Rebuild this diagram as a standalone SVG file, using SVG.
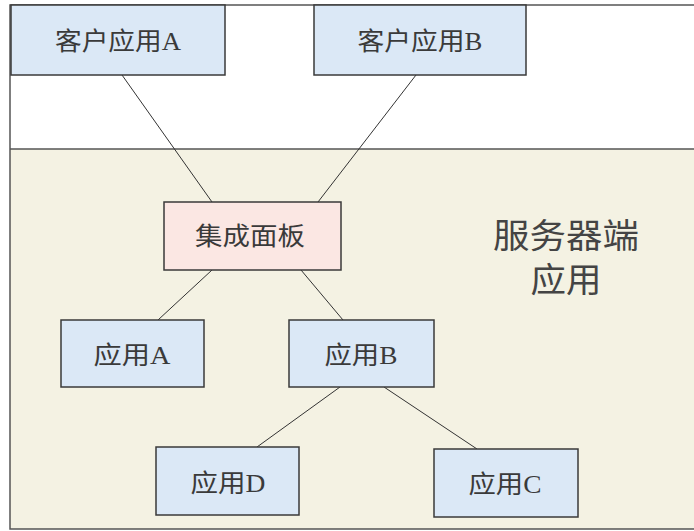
<svg xmlns="http://www.w3.org/2000/svg" width="694" height="531" viewBox="0 0 694 531">
<style>
.frame{fill:none;stroke:#555;stroke-width:1.5}
.box{fill:#dbe8f6;stroke:#3a3a3a;stroke-width:1.5}
.pink{fill:#fbe7e3;stroke:#3a3a3a;stroke-width:1.5}
.lbl{font-family:"Liberation Serif","Noto Sans CJK SC",serif;font-size:25px;fill:#3a3a3a;text-anchor:middle}
.big{font-family:"Liberation Serif","Noto Sans CJK SC",serif;font-size:34px;fill:#444;text-anchor:middle}
.conn line{stroke:#333;stroke-width:1}
</style>
<rect x="0" y="0" width="694" height="531" fill="#ffffff"/>
<rect id="server-area" x="10" y="149" width="700" height="380" fill="#f4f2e3"/>
<rect x="10" y="5" width="700" height="524" class="frame"/>
<line x1="10" y1="149" x2="694" y2="149" stroke="#555" stroke-width="1.5"/>
<text class="big" x="566" y="248" textLength="146" lengthAdjust="spacingAndGlyphs">服务器端</text>
<text class="big" x="566" y="292" textLength="71" lengthAdjust="spacingAndGlyphs">应用</text>
<g class="conn">
<line x1="122" y1="75" x2="212" y2="202"/>
<line x1="416" y1="75" x2="318" y2="202"/>
<line x1="212" y1="270" x2="158" y2="320"/>
<line x1="301" y1="270" x2="343" y2="320"/>
<line x1="340" y1="387" x2="257" y2="447"/>
<line x1="384" y1="387" x2="477" y2="449"/>
</g>
<g id="clientA"><rect class="box" x="11" y="5" width="214" height="70"/><text class="lbl" x="118" y="50" textLength="126" lengthAdjust="spacingAndGlyphs">客户应用A</text></g>
<g id="clientB"><rect class="box" x="314" y="5" width="212" height="70"/><text class="lbl" x="420" y="50" textLength="125" lengthAdjust="spacingAndGlyphs">客户应用B</text></g>
<g id="panel"><rect class="pink" x="164" y="202" width="177" height="68"/><text class="lbl" x="250" y="245" textLength="110" lengthAdjust="spacingAndGlyphs">集成面板</text></g>
<g id="appA"><rect class="box" x="61" y="320" width="143" height="67"/><text class="lbl" x="132" y="364" textLength="77" lengthAdjust="spacingAndGlyphs">应用A</text></g>
<g id="appB"><rect class="box" x="289" y="320" width="145" height="67"/><text class="lbl" x="361" y="364" textLength="73" lengthAdjust="spacingAndGlyphs">应用B</text></g>
<g id="appD"><rect class="box" x="156" y="447" width="143" height="68"/><text class="lbl" x="228" y="492" textLength="75" lengthAdjust="spacingAndGlyphs">应用D</text></g>
<g id="appC"><rect class="box" x="434" y="449" width="144" height="68"/><text class="lbl" x="505" y="493" textLength="73" lengthAdjust="spacingAndGlyphs">应用C</text></g>
</svg>
